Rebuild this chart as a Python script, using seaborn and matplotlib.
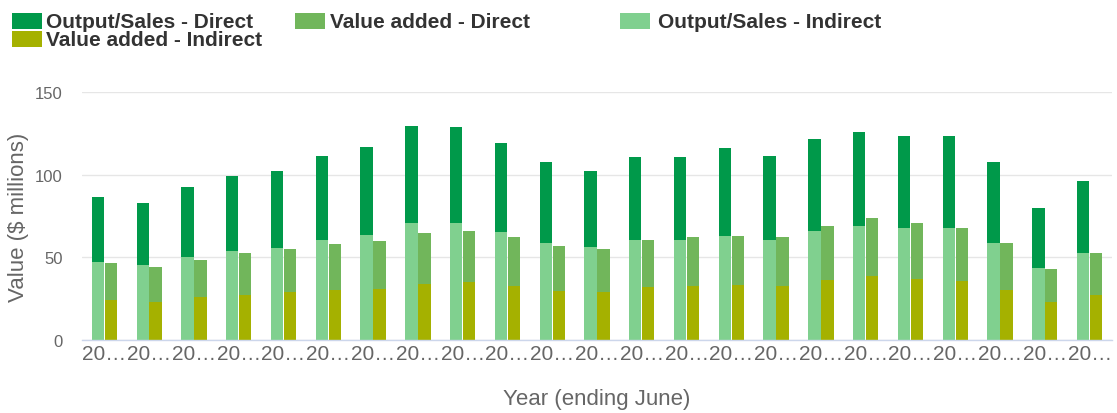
import numpy as np
import pandas as pd
import matplotlib
matplotlib.use("Agg")
import matplotlib.pyplot as plt
from matplotlib.patches import Rectangle
import seaborn as sns

# Financial years (ending June)
years = [f"{y}-{str(y + 1)[-2:]}" for y in range(2000, 2023)]

# Economic contribution, $ millions
output_direct = [39.3, 37.4, 42.3, 45.3, 46.5, 50.7, 53.2, 58.6, 57.9, 53.8, 48.9, 45.9,
                 50.1, 50.1, 53.2, 50.7, 55.6, 56.7, 55.6, 55.6, 48.9, 36.2, 43.5]
output_indirect = [47.1, 45.3, 50.1, 53.8, 55.6, 60.4, 63.4, 70.7, 70.7, 65.2, 58.6, 56.2,
                   60.4, 60.4, 62.8, 60.4, 65.8, 68.9, 67.6, 67.6, 58.6, 43.5, 52.5]
va_direct = [22.3, 21.1, 22.1, 25.1, 26.0, 27.8, 29.0, 30.8, 30.8, 29.6, 27.0, 26.0,
             28.2, 29.6, 29.4, 29.6, 32.7, 35.0, 33.7, 31.8, 28.4, 19.9, 25.1]
va_indirect = [24.2, 23.0, 26.2, 27.4, 29.0, 30.2, 30.8, 33.8, 35.0, 32.6, 29.8, 29.0,
               32.2, 32.6, 33.4, 32.6, 36.2, 38.7, 37.0, 35.8, 30.2, 23.0, 27.4]

measures = ["Output/Sales", "Value added"]
legend_labels = ["Output/Sales - Direct", "Value added - Direct",
                 "Output/Sales - Indirect", "Value added - Indirect"]
colors = {
    "Output/Sales - Direct": "#00994a",
    "Value added - Direct": "#71b65b",
    "Output/Sales - Indirect": "#80d08f",
    "Value added - Indirect": "#a5b100",
}

yticks = [0, 50, 100, 150]

n = len(years)
df = pd.DataFrame({
    "year": years * 2,
    "measure": [measures[0]] * n + [measures[1]] * n,
    "indirect": output_indirect + va_indirect,
    "direct": output_direct + va_direct,
})
df["total"] = df["indirect"] + df["direct"]

sns.set_theme(style="white")
plt.rcParams["font.family"] = ["Liberation Sans", "DejaVu Sans"]

W, H = 1117, 414
fig = plt.figure(figsize=(W / 100, H / 100), dpi=100)
ax = fig.add_axes([82 / W, 1 - 341 / H, (1112 - 82) / W, (341 - 93) / H])

# Stacked bars: full height in the "direct" colour, indirect part drawn over it
sns.barplot(data=df, x="year", y="total", hue="measure", hue_order=measures,
            palette={measures[0]: colors[legend_labels[0]],
                     measures[1]: colors[legend_labels[1]]},
            width=0.58, gap=0.05, saturation=1, legend=False, ax=ax, zorder=2,
            linewidth=0, edgecolor="none")
sns.barplot(data=df, x="year", y="indirect", hue="measure", hue_order=measures,
            palette={measures[0]: colors[legend_labels[2]],
                     measures[1]: colors[legend_labels[3]]},
            width=0.58, gap=0.05, saturation=1, legend=False, ax=ax, zorder=3,
            linewidth=0, edgecolor="none")

ax.set_ylim(0, 150)
ax.set_xlim(-0.5, n - 0.5)
ax.set_yticks(yticks)
ax.set_yticklabels([str(v) for v in yticks])
ax.set_xticks(range(n))
ax.set_xticklabels([y[:2] + "\u2026" for y in years])

ax.grid(axis="y", color="#e6e6e6", linewidth=1, zorder=0)
ax.grid(axis="x", visible=False)
for side in ["top", "right", "left"]:
    ax.spines[side].set_visible(False)
ax.spines["bottom"].set_color("#ccd6eb")
ax.spines["bottom"].set_linewidth(1)
ax.spines["bottom"].set_zorder(4)
ax.tick_params(axis="both", length=0)
ax.tick_params(axis="y", labelsize=12, labelcolor="#666666", pad=14)
ax.tick_params(axis="x", labelsize=15, labelcolor="#666666", pad=3)

ax.set_ylabel("Value ($ millions)", fontsize=16, color="#666666", labelpad=4)
ax.set_xlabel("Year (ending June)", fontsize=16, color="#666666", labelpad=18)

# Legend across the top
legend_pos = [(12, 14, 46, 28), (295, 14, 330, 28), (620, 14, 658, 28), (12, 32, 46, 46)]
for label, (mx, my, tx, ty) in zip(legend_labels, legend_pos):
    fig.add_artist(Rectangle((mx / W, 1 - (my + 16) / H), 30 / W, 16 / H,
                             transform=fig.transFigure, facecolor=colors[label],
                             edgecolor="none"))
    fig.text(tx / W, 1 - ty / H, label, fontsize=15, fontweight="bold",
             color="#333333", ha="left", va="baseline")

fig.savefig("out.png", dpi=100, facecolor="white")
